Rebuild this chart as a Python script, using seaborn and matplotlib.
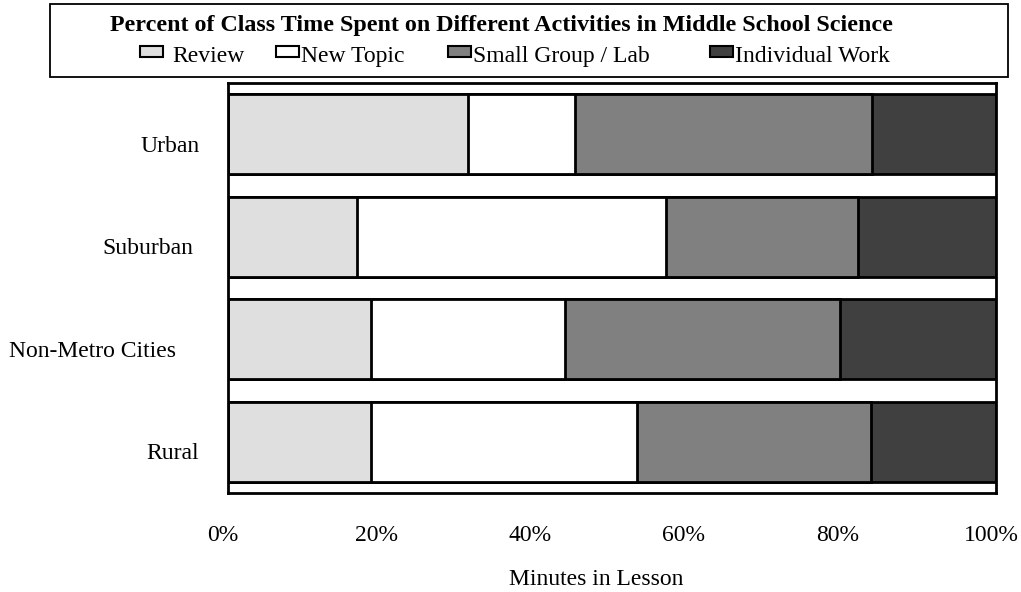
import numpy as np
import pandas as pd
import seaborn as sns
import matplotlib.pyplot as plt
from matplotlib.patches import Patch, Rectangle
from matplotlib.legend_handler import HandlerPatch
from matplotlib.transforms import offset_copy, ScaledTranslation

regions = ["Urban", "Suburban", "Non-Metro Cities", "Rural"]
activities = ["Review", "New Topic", "Small Group / Lab", "Individual Work"]
review = [31.3, 16.8, 18.6, 18.6]
new_topic = [13.9, 40.2, 25.3, 34.7]
small_group = [38.6, 25.0, 35.8, 30.4]
individual = [16.2, 18.0, 20.3, 16.3]
colors = ["#dfdfdf", "#ffffff", "#808080", "#404040"]


def raised_box(legend, orig_handle, xdescent, ydescent, width, height,
               fontsize):
    # legend key sits a little above the text, like the original
    return Rectangle((-xdescent, -ydescent + height * 0.33), width,
                     height * 0.62)


if __name__ == "__main__":
    sns.set_style("white")
    plt.rcParams['font.family'] = ['Liberation Serif', 'DejaVu Serif']
    plt.rcParams.update({"text.color": "black", "axes.labelcolor": "black",
                         "xtick.color": "black", "ytick.color": "black"})
    fs = 17

    df = pd.DataFrame({"region": regions, "Review": review,
                       "New Topic": new_topic,
                       "Small Group / Lab": small_group,
                       "Individual Work": individual})
    # cumulative totals, drawn back to front so segments stack
    cum = df[activities].cumsum(axis=1)
    cum["region"] = df["region"]

    fig = plt.figure(figsize=(10.21, 5.92), dpi=100)
    ax = fig.add_axes([228 / 1021, 1 - 493 / 592, 768 / 1021, 410 / 592])
    for i in range(len(activities) - 1, -1, -1):
        sns.barplot(data=cum, x=activities[i], y="region", color=colors[i],
                    edgecolor="black", linewidth=2, width=0.78, ax=ax,
                    saturation=1)
    ax.set_xlim(0, 100)
    ax.set_ylim(3.5, -0.5)
    ax.set_xticks(range(0, 101, 20))
    ax.set_xticklabels([f"{v}%" for v in range(0, 101, 20)], fontsize=fs)
    ax.tick_params(axis="x", length=0, pad=23)
    shift = ScaledTranslation(-0.05, 0, fig.dpi_scale_trans)
    for lab in ax.get_xticklabels():
        lab.set_transform(lab.get_transform() + shift)

    # category labels, each placed like in the original
    ax.set_yticks(range(len(regions)))
    ax.set_yticklabels([])
    ax.tick_params(axis="y", length=0)
    ax.set_ylabel("")
    gaps = [28, 35, 52, 29]
    for i, name in enumerate(regions):
        tr = offset_copy(ax.get_yaxis_transform(), fig=fig, x=-gaps[i],
                         y=-12, units="dots")
        ax.text(0, i, name, transform=tr, ha="right", va="center",
                fontsize=fs)

    ax.set_xlabel("Minutes in Lesson", fontsize=fs)
    ax.xaxis.set_label_coords((596 - 228) / 768, (493 - 569) / 410)
    for s in ax.spines.values():
        s.set_visible(True)
        s.set_color("black")
        s.set_linewidth(2)

    # title box at the top
    fig.patches.append(Rectangle((50 / 1021, 1 - 77 / 592), 958 / 1021,
                                 73 / 592, transform=fig.transFigure,
                                 fill=False, edgecolor="black",
                                 linewidth=1.3))
    fig.text(501 / 1021, 1 - 31 / 592,
             "Percent of Class Time Spent on Different Activities "
             "in Middle School Science", ha="center", va="baseline",
             fontsize=17.3, fontweight="bold")

    # one legend entry per activity, spaced like the original
    key_x = [140, 276, 448, 710]
    text_pad = [0.42, 0.1, 0.1, 0.1]
    for i, name in enumerate(activities):
        h = Patch(facecolor=colors[i], edgecolor="black", linewidth=1.5)
        fig.legend([h], [name], loc="center left",
                   bbox_to_anchor=(key_x[i] / 1021, 1 - 56 / 592),
                   frameon=False, fontsize=fs, handlelength=0.97,
                   handleheight=0.8, handletextpad=text_pad[i],
                   borderpad=0, borderaxespad=0,
                   handler_map={Patch: HandlerPatch(patch_func=raised_box)})

    plt.savefig("out.png", dpi=100)
    plt.close()
